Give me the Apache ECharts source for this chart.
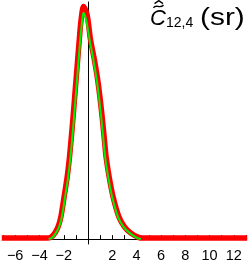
<!DOCTYPE html>
<html><head><meta charset="utf-8">
<script src="https://cdn.jsdelivr.net/npm/echarts@6/dist/echarts.min.js"></script>
<style>html,body{margin:0;padding:0;background:#fff}#c{width:249px;height:263px}</style>
</head><body><div id="c"></div>
<script>
// Green curve
const greenX = [-3.24,-2.96,-2.64,-2.37,-2.15,-1.89,-1.64,-1.45,-1.30,-1.16,-1.03,-0.90,-0.77,-0.64,-0.49,-0.38,-0.16,0.12,0.43,0.70,0.91,1.09,1.25,1.41,1.66,1.98,2.45,2.89,3.42,4.02,4.35];
const greenY = [0,0.13,0.63,1.3,2.3,4.3,6.3,8.3,10.3,12.3,14.3,16.3,18.3,20.3,22.1,23.0,22.3,20.3,18.3,16.3,14.3,12.3,10.3,8.3,6.3,4.3,2.3,1.3,0.63,0.13,0];
// Red curve
const redX = [-7.1,-3.4,-3.04,-2.72,-2.45,-2.23,-1.97,-1.72,-1.53,-1.38,-1.24,-1.11,-0.98,-0.85,-0.72,-0.57,-0.37,-0.08,0.2,0.51,0.78,0.99,1.17,1.33,1.49,1.74,2.06,2.53,2.97,3.5,4.1,4.5,13.1];
const redY = [0.1,0.1,0.2,0.63,1.3,2.3,4.3,6.3,8.3,10.3,12.3,14.3,16.3,18.3,20.3,22.3,23.65,22.8,20.3,18.3,16.3,14.3,12.3,10.3,8.3,6.3,4.3,2.3,1.3,0.63,0.2,0.1,0.1];
// Tick labels
const xTickLabels = [-6,-4,-2,2,4,6,8,10,12];

const zip = (a, b) => a.map((v, i) => [v, b[i]]);
const chart = echarts.init(document.getElementById('c'), null, {renderer: 'canvas'});
const FONT = 'Liberation Sans, Arial, sans-serif';
const T = (text, x, y, size, extra, sx) => ({type: 'text', x, y, scaleX: sx || 1,
  style: Object.assign({text, fontSize: size, fontFamily: FONT, fill: '#000',
    align: 'left', verticalAlign: 'top', textAlign: 'left', textVerticalAlign: 'top'}, extra || {})});
chart.setOption({
  animation: false,
  backgroundColor: '#fff',
  grid: {left: 1, right: 1, top: 2, bottom: 15, containLabel: false},
  xAxis: {
    type: 'value', min: -7, max: 13, interval: 1,
    axisLine: {onZero: true, lineStyle: {color: '#000', width: 1}},
    axisTick: {inside: true, length: 4, lineStyle: {color: '#000', width: 1}},
    splitLine: {show: false},
    axisLabel: {
      margin: 4, fontSize: 14.5, color: '#000', fontFamily: FONT,
      showMinLabel: true, showMaxLabel: true,
      formatter: v => xTickLabels.includes(v) ? (v < 0 ? '\u2212' + (-v) : String(v)) : ''
    }
  },
  yAxis: {
    type: 'value', min: -0.5, max: 24.1,
    axisLine: {show: true, onZero: true, lineStyle: {color: '#000', width: 1}},
    axisTick: {show: false}, axisLabel: {show: false}, splitLine: {show: false}
  },
  series: [
    {type: 'line', data: zip(redX, redY), showSymbol: false, clip: false, smooth: 0.3,
     lineStyle: {color: '#ff0000', width: 5.5}, z: 3},
    {type: 'line', data: zip(greenX, greenY), showSymbol: false, clip: false, smooth: 0.3,
     lineStyle: {color: '#00ee00', width: 2}, z: 4}
  ],
  graphic: [
    T('C', 150, 8, 22, {fontStyle: 'italic'}),
    T('12,4', 166, 16, 14),
    T('(sr)', 200, 7, 23, null, 1.3),
    {type: 'polyline', shape: {points: [[154.5,3.6],[158.8,0.6],[163,3.6]]}, style: {stroke: '#000', lineWidth: 1.3, fill: null}},
    {type: 'bezierCurve', shape: {x1: 153.5, y1: 7.8, cpx1: 156, cpy1: 3.5, cpx2: 160, cpy2: 9.5, x2: 163.5, y2: 5}, style: {stroke: '#000', lineWidth: 1.3, fill: null}}
  ]
});
</script>
</body></html>
